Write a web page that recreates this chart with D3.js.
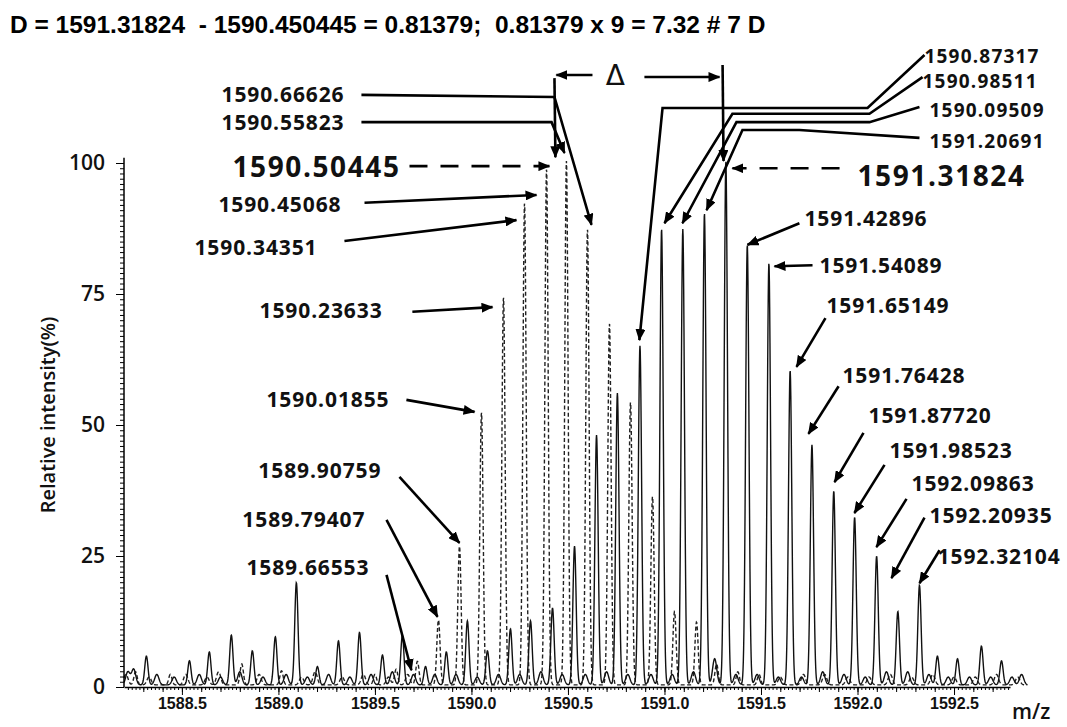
<!DOCTYPE html>
<html lang="en">
<head>
<meta charset="UTF-8">
<title>Isotope envelope, m/z 1588-1593</title>
<script src="https://d3js.org/d3.v7.min.js"></script>
<style>
    body { margin: 0; background: #fff; }
    .lbl { font-family: "Open Sans", sans-serif; font-weight: 700; font-size: 21px; letter-spacing: 0.9px; fill: #111; }
    .lbl.big { font-size: 28px; letter-spacing: 1.6px; }
    .lbl.small { font-size: 19px; letter-spacing: 1.2px; }
    .lead { fill: none; stroke: #000; stroke-width: 2.6; }
    .axis text { fill: #111; }
</style>
</head>
<body>
<div id="chart"></div>
<script>
const width = 1067, height = 727;
const marginTop = 163, marginRight = 57, marginBottom = 40, marginLeft = 124;

// solid trace: isotope peaks (m/z, relative intensity %)
const solidMz = [1588.316, 1588.539, 1588.642, 1588.756, 1588.865, 1588.984, 1589.093, 1589.202, 1589.311, 1589.420,
    1589.539, 1589.642, 1589.762, 1589.870, 1589.979, 1590.083, 1590.202, 1590.306, 1590.420, 1590.534,
    1590.648, 1590.756, 1590.873, 1590.985, 1591.095, 1591.207, 1591.318, 1591.429, 1591.541, 1591.651,
    1591.764, 1591.877, 1591.985, 1592.099, 1592.209, 1592.321, 1592.414, 1592.518, 1592.642, 1592.746];
const solidInt = [5.5, 4.6, 6.3, 9.5, 6.5, 9.2, 19.5, 3.5, 8.4, 10,
    5.7, 9.4, 3.5, 6.3, 12.2, 6.5, 10.7, 12.2, 14.7, 26.5,
    47.7, 55.7, 64.7, 87, 87, 90, 100, 84, 80.5, 60,
    45.8, 37, 32, 24.6, 14, 19, 5.5, 5, 7.4, 4.6];

// dashed trace: reference peaks
const dashMz = [1588.26, 1588.44, 1588.81, 1589.016, 1589.50, 1589.61, 1589.72, 1589.829, 1589.938, 1590.052,
    1590.166, 1590.275, 1590.389, 1590.492, 1590.601, 1590.715, 1590.824, 1590.938, 1591.052, 1591.166,
    1591.27, 1591.38, 1591.49];
const dashInt = [2.5, 2, 4, 2.7, 2, 3, 4.5, 12.4, 26.5, 52,
    74, 92, 98.5, 100, 87, 69, 54, 36, 14, 12,
    4, 2.5, 2];

// baseline bumps
const solidNoiseMz = [1588.22, 1588.25, 1588.37, 1588.46, 1588.59, 1588.70, 1588.80, 1588.92, 1589.04, 1589.15,
    1589.26, 1589.37, 1589.48, 1589.59, 1589.70, 1589.81, 1589.92, 1590.03, 1590.14, 1590.25,
    1590.36, 1590.47, 1590.59, 1590.70, 1590.81, 1590.93, 1591.04, 1591.15, 1591.26, 1591.37,
    1591.48, 1591.59, 1591.71, 1591.82, 1591.93, 1592.04, 1592.15, 1592.26, 1592.37, 1592.47,
    1592.58, 1592.69, 1592.80, 1592.85];
const solidNoiseInt = [2.5, 3, 2, 1.5, 2, 1.5, 2.5, 1.5, 2, 1.5,
    2, 1.5, 2, 2.5, 2, 2, 2, 1.5, 2, 2,
    2.5, 2, 2, 2.5, 2, 2, 2, 2.5, 5, 2,
    2, 1.5, 1.5, 2.5, 2, 1.5, 2.5, 2.5, 2, 1.5,
    1.5, 1.5, 1.5, 2];
const dashNoiseMz = [1588.21, 1588.33, 1588.52, 1588.63, 1588.69, 1588.90, 1589.12, 1589.19, 1589.33, 1589.44,
    1589.57, 1589.67, 1591.60, 1591.72, 1591.83, 1591.95, 1592.06, 1592.17, 1592.28, 1592.39,
    1592.50, 1592.61, 1592.72, 1592.83];
const dashNoiseInt = [2, 1.5, 2, 1.5, 2.5, 2, 1.5, 2.5, 1.5, 2,
    1.5, 2, 1.5, 2, 2, 1.5, 1.5, 2, 1.5, 2,
    1.5, 1.5, 2, 1.5];

const xTicks = [1588.5, 1589.0, 1589.5, 1590.0, 1590.5, 1591.0, 1591.5, 1592.0, 1592.5];
const yTicks = [0, 25, 50, 75, 100];

const title = "D = 1591.31824  - 1590.450445 = 0.81379;  0.81379 x 9 = 7.32 # 7 D";

// callouts: label anchor and leader path in data units (m/z, %)
const callouts = [
    { text: "1590.66626", at: [1588.705, 113.0], path: [[1589.430, 113.0], [1590.430, 112.6], [1590.622, 88.2]] },
    { text: "1590.55823", at: [1588.705, 107.8], path: [[1589.430, 107.8], [1590.415, 107.8], [1590.482, 101.9]] },
    { text: "1590.50445", at: [1588.762, 99.2], big: true, dashed: true, path: [[1589.679, 99.4], [1590.404, 99.4]] },
    { text: "1590.45068", at: [1588.689, 92.0], path: [[1589.446, 92.4], [1590.337, 93.9]] },
    { text: "1590.34351", at: [1588.565, 83.8], path: [[1589.342, 85.1], [1590.233, 89.1]] },
    { text: "1590.23633", at: [1588.902, 71.9], path: [[1589.694, 71.6], [1590.109, 72.5]] },
    { text: "1590.01855", at: [1588.938, 54.8], path: [[1589.663, 54.8], [1590.016, 52.5]] },
    { text: "1589.90759", at: [1588.896, 41.4], path: [[1589.627, 40.1], [1589.938, 27.5]] },
    { text: "1589.79407", at: [1588.813, 31.9], path: [[1589.560, 31.9], [1589.824, 13.4]] },
    { text: "1589.66553", at: [1588.834, 22.9], path: [[1589.560, 21.4], [1589.689, 3.2]] },
    { text: "1591.42896", at: [1591.725, 89.5], path: [[1591.699, 88.5], [1591.430, 84.4]] },
    { text: "1591.54089", at: [1591.803, 80.5], path: [[1591.767, 80.5], [1591.570, 80.3]] },
    { text: "1591.65149", at: [1591.839, 72.9], path: [[1591.834, 70.4], [1591.684, 61.1]] },
    { text: "1591.76428", at: [1591.922, 59.4], path: [[1591.902, 57.4], [1591.746, 48.3]] },
    { text: "1591.87720", at: [1592.057, 51.9], path: [[1592.031, 48.5], [1591.881, 39.1]] },
    { text: "1591.98523", at: [1592.166, 45.2], path: [[1592.140, 42.4], [1591.984, 33.2]] },
    { text: "1592.09863", at: [1592.280, 38.9], path: [[1592.254, 35.9], [1592.098, 26.7]] },
    { text: "1592.20935", at: [1592.373, 32.8], path: [[1592.347, 32.3], [1592.176, 20.8]] },
    { text: "1592.32104", at: [1592.415, 25.0], path: [[1592.425, 26.1], [1592.321, 19.8]] },
    { text: "1590.87317", at: [1592.347, 120.4], small: true, path: [[1592.347, 120.6], [1592.052, 110.5], [1590.990, 110.5], [1590.870, 66.2]] },
    { text: "1590.98511", at: [1592.337, 115.6], small: true, path: [[1592.337, 116.4], [1592.062, 109.4], [1591.352, 109.4], [1591.000, 88.5]] },
    { text: "1590.09509", at: [1592.373, 110.1], small: true, path: [[1592.321, 110.7], [1592.062, 107.8], [1591.373, 107.8], [1591.093, 88.5]] },
    { text: "1591.20691", at: [1592.373, 104.2], small: true, path: [[1592.321, 104.8], [1591.699, 106.3], [1591.404, 106.3], [1591.218, 91.0]] },
    { text: "1591.31824", at: [1592.000, 97.5], big: true, dashed: true, path: [[1591.907, 99.0], [1591.352, 99.0]] }
];

// delta bracket between the two reference tops
const deltaBars = [
    [[1590.430, 116.2], [1590.435, 101.1]],
    [[1591.301, 118.7], [1591.306, 100.4]]
];
const deltaArrows = [
    [[1590.627, 116.8], [1590.440, 116.8]],
    [[1590.896, 116.4], [1591.285, 116.4]]
];
const deltaAt = [1590.746, 116.8];

const x = d3.scaleLinear().domain([1588.2, 1592.79]).range([marginLeft, width - marginRight]);
const y = d3.scaleLinear().domain([0, 100]).range([height - marginBottom, marginTop]);

const sigma = 0.0085, noiseSigma = 0.011, floor = 0.4;
function profile(mz, it, nmz, nit) {
    const grid = d3.range(1588.2, 1592.88, 0.0015);
    return grid.map(m => {
        let v = floor;
        mz.forEach((c, i) => {
            const d = (m - c) / sigma;
            if (Math.abs(d) < 8) v += it[i] * Math.exp(-0.5 * d * d);
        });
        nmz.forEach((c, i) => {
            const d = (m - c) / noiseSigma;
            if (Math.abs(d) < 8) v += nit[i] * Math.exp(-0.5 * d * d);
        });
        return [m, v];
    });
}

const svg = d3.select("#chart").append("svg")
    .attr("width", width)
    .attr("height", height)
    .attr("viewBox", [0, 0, width, height]);

svg.append("defs").append("marker")
    .attr("id", "head")
    .attr("viewBox", "0 -5 12 10")
    .attr("refX", 11).attr("refY", 0)
    .attr("markerWidth", 12).attr("markerHeight", 10)
    .attr("markerUnits", "userSpaceOnUse")
    .attr("orient", "auto")
    .append("path")
    .attr("d", "M0,-5L12,0L0,5Z")
    .attr("fill", "#000");

const line = d3.line().x(d => x(d[0])).y(d => y(d[1]));

// traces
svg.append("path")
    .datum(profile(dashMz, dashInt, dashNoiseMz, dashNoiseInt))
    .attr("fill", "none")
    .attr("stroke", "#222")
    .attr("stroke-width", 1.4)
    .attr("stroke-dasharray", "4,2.5")
    .attr("d", line);

svg.append("path")
    .datum(profile(solidMz, solidInt, solidNoiseMz, solidNoiseInt))
    .attr("fill", "none")
    .attr("stroke", "#111")
    .attr("stroke-width", 1.4)
    .attr("d", line);

// axes
const baseY = height - marginBottom;
svg.append("g")
    .attr("transform", `translate(0,${baseY})`)
    .call(d3.axisBottom(x).tickValues(d3.range(1588.22, 1592.79, 0.02)).tickSize(3).tickFormat(""))
    .call(g => g.select(".domain").remove());
svg.append("g")
    .attr("transform", `translate(0,${baseY})`)
    .call(d3.axisBottom(x).tickValues(d3.range(1588.3, 1592.79, 0.1)).tickSize(5).tickFormat(""))
    .call(g => g.select(".domain").remove());
svg.append("g")
    .attr("class", "axis")
    .attr("transform", `translate(0,${baseY})`)
    .call(d3.axisBottom(x).tickValues(xTicks).tickSize(8).tickPadding(3).tickSizeOuter(0).tickFormat(d3.format(".1f")))
    .call(g => g.select(".domain").attr("stroke-width", 1.5))
    .call(g => g.selectAll("text")
        .attr("font-family", "'Liberation Sans', Arial, sans-serif")
        .attr("font-weight", "bold")
        .attr("font-size", 16));

svg.append("g")
    .attr("transform", `translate(${marginLeft},0)`)
    .call(d3.axisLeft(y).tickValues(d3.range(0, 101, 1)).tickSize(4).tickFormat(""))
    .call(g => g.select(".domain").remove());
svg.append("g")
    .attr("class", "axis")
    .attr("transform", `translate(${marginLeft},0)`)
    .call(d3.axisLeft(y).tickValues(yTicks).tickSize(8).tickPadding(11).tickSizeOuter(0))
    .call(g => g.select(".domain").attr("stroke-width", 1.5).attr("d", `M0,${y(101)}V${baseY}`))
    .call(g => g.selectAll("text")
        .attr("font-family", "'Open Sans', sans-serif")
        .attr("font-weight", 600)
        .attr("font-size", 21));

// axis titles
svg.append("text")
    .attr("transform", `translate(48,${(y(0) + y(100)) / 2 - 10}) rotate(-90)`)
    .attr("text-anchor", "middle")
    .attr("dy", "0.35em")
    .attr("font-family", "'Open Sans', sans-serif")
    .attr("font-weight", 600)
    .attr("font-size", 20)
    .attr("fill", "#111")
    .text("Relative intensity(%)");

svg.append("text")
    .attr("x", x.range()[1] + 2)
    .attr("y", height - 8)
    .attr("font-family", "'Open Sans', sans-serif")
    .attr("font-weight", 600)
    .attr("font-size", 21)
    .attr("fill", "#111")
    .text("m/z");

svg.append("text")
    .attr("x", 10)
    .attr("y", 33)
    .attr("font-family", "'Liberation Sans', Arial, sans-serif")
    .attr("font-weight", "bold")
    .attr("font-size", 24.5)
    .attr("fill", "#000")
    .attr("xml:space", "preserve")
    .text(title);

// callouts
const notes = svg.append("g");
notes.selectAll("path")
    .data(callouts)
    .join("path")
    .attr("class", "lead")
    .attr("stroke-width", d => d.dashed ? 3.5 : 2.6)
    .attr("stroke-dasharray", d => d.dashed ? "18,13" : null)
    .attr("marker-end", "url(#head)")
    .attr("d", d => line(d.path));

notes.selectAll("text")
    .data(callouts)
    .join("text")
    .attr("class", d => "lbl" + (d.big ? " big" : "") + (d.small ? " small" : ""))
    .attr("x", d => x(d.at[0]))
    .attr("y", d => y(d.at[1]))
    .attr("dy", "0.36em")
    .text(d => d.text);

// delta bracket
const delta = svg.append("g");
delta.selectAll("path.bar")
    .data(deltaBars)
    .join("path")
    .attr("class", "lead bar")
    .attr("stroke-width", 4)
    .attr("marker-end", "url(#head)")
    .attr("d", line);
delta.selectAll("path.arm")
    .data(deltaArrows)
    .join("path")
    .attr("class", "lead arm")
    .attr("stroke-width", 3)
    .attr("marker-end", "url(#head)")
    .attr("d", line);
delta.append("text")
    .attr("x", x(deltaAt[0]))
    .attr("y", y(deltaAt[1]))
    .attr("dy", "0.36em")
    .attr("text-anchor", "middle")
    .attr("font-family", "'DejaVu Sans', sans-serif")
    .attr("font-size", 28)
    .attr("fill", "#111")
    .text("Δ");
</script>
</body>
</html>
